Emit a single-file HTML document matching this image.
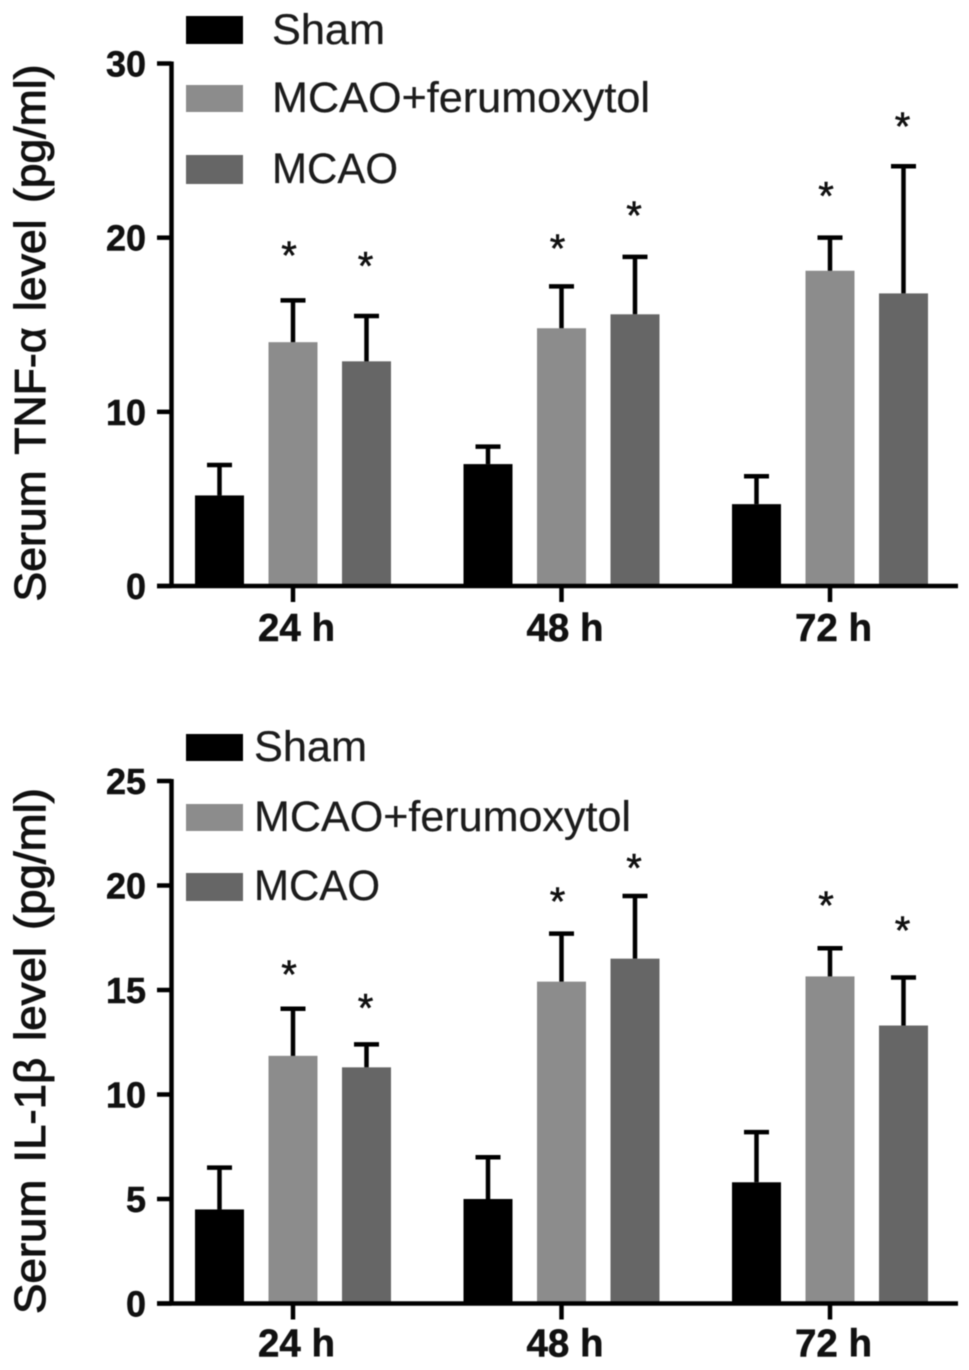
<!DOCTYPE html>
<html>
<head>
<meta charset="utf-8">
<title>Serum TNF-α and IL-1β levels</title>
<style>
html,body{margin:0;padding:0;background:#fff;}
svg{display:block;filter:blur(0.45px);}
text{font-family:"Liberation Sans",sans-serif;fill:#111;}
.tick{font-weight:700;font-size:36px;stroke:#111;stroke-width:.5px;}
.cat{font-weight:700;font-size:38.5px;stroke:#111;stroke-width:.5px;}
.title{font-size:43.5px;stroke:#111;stroke-width:1px;word-spacing:4px;}
.legend{font-size:43px;fill:#1c1c1c;stroke:#1c1c1c;stroke-width:.25px;}
.star{font-size:40px;font-weight:400;stroke:#111;stroke-width:.6px;}
</style>
</head>
<body>
<svg id="figure" width="969" height="1370" viewBox="0 0 969 1370" xmlns="http://www.w3.org/2000/svg">
  <g id="tnf-chart">
    <text class="title" transform="translate(45,333) rotate(-90)" text-anchor="middle" textLength="537" lengthAdjust="spacingAndGlyphs">Serum TNF-α level (pg/ml)</text>
    <g>
      <rect x="186" y="16" width="57" height="28" fill="#000"/>
      <text class="legend" x="272" y="44" textLength="113" lengthAdjust="spacingAndGlyphs">Sham</text>
      <rect x="186" y="85" width="57" height="27" fill="#8c8c8c"/>
      <text class="legend" x="272" y="112" textLength="378" lengthAdjust="spacingAndGlyphs">MCAO+ferumoxytol</text>
      <rect x="186" y="155" width="57" height="29" fill="#666"/>
      <text class="legend" x="272" y="183" textLength="126" lengthAdjust="spacingAndGlyphs">MCAO</text>
    </g>
  </g>
  <g id="il-chart">
    <text class="title" transform="translate(45,1051) rotate(-90)" text-anchor="middle" textLength="526" lengthAdjust="spacingAndGlyphs">Serum IL-1β level (pg/ml)</text>
    <g>
      <rect x="186" y="734" width="57" height="27" fill="#000"/>
      <text class="legend" x="254" y="761" textLength="113" lengthAdjust="spacingAndGlyphs">Sham</text>
      <rect x="186" y="804" width="57" height="27" fill="#8c8c8c"/>
      <text class="legend" x="254" y="831" textLength="377" lengthAdjust="spacingAndGlyphs">MCAO+ferumoxytol</text>
      <rect x="186" y="873" width="57" height="28" fill="#666"/>
      <text class="legend" x="254" y="900" textLength="126" lengthAdjust="spacingAndGlyphs">MCAO</text>
    </g>
  </g>
</svg>
<script>
const categories = ['24 h', '48 h', '72 h'];
const seriesKeys = ['sham', 'ferumoxytol', 'mcao'];
const seriesColors = ['#000000', '#8c8c8c', '#666666'];

const tnfTicks = [0, 10, 20, 30];
const tnfSham = [5.2, 7.0, 4.7];
const tnfFerumoxytol = [14.0, 14.8, 18.1];
const tnfMcao = [12.9, 15.6, 16.8];
const tnfShamUpper = [6.95, 8.0, 6.3];
const tnfFerumoxytolUpper = [16.4, 17.2, 20.0];
const tnfMcaoUpper = [15.5, 18.9, 24.1];
const tnfFerumoxytolStar = [19.3, 19.7, 22.7];
const tnfMcaoStar = [18.7, 21.6, 26.7];

const ilTicks = [0, 5, 10, 15, 20, 25];
const ilSham = [4.5, 5.0, 5.8];
const ilFerumoxytol = [11.85, 15.4, 15.65];
const ilMcao = [11.3, 16.5, 13.3];
const ilShamUpper = [6.5, 7.0, 8.2];
const ilFerumoxytolUpper = [14.1, 17.7, 17.0];
const ilMcaoUpper = [12.4, 19.5, 15.6];
const ilFerumoxytolStar = [16.0, 19.5, 19.3];
const ilMcaoStar = [14.4, 21.1, 18.1];

const NS = 'http://www.w3.org/2000/svg';

function make(parent, tag, attrs) {
  const el = document.createElementNS(NS, tag);
  for (const k in attrs) el.setAttribute(k, attrs[k]);
  parent.appendChild(el);
  return el;
}

function drawChart(rootId, prefix, ticks, yMax, y0, yTop, axisBottomExtent, values, uppers, stars) {
  const root = document.getElementById(rootId);
  const yScale = v => y0 - (v / yMax) * (y0 - yTop);
  const groupX = i => 293 + i * 268.5;
  const barX = (i, s) => groupX(i) + (s - 1) * 73.5;
  const barW = 49;
  const ink = '#000';

  seriesKeys.forEach((key, s) => {
    categories.forEach((cat, i) => {
      const cx = barX(i, s);
      const bar = make(root, 'rect', {x: cx - barW / 2, y: yScale(values[s][i]), width: barW, height: y0 - yScale(values[s][i]), fill: seriesColors[s]});
      
      

      const stem = make(root, 'line', {x1: cx, x2: cx, y1: yScale(values[s][i]), y2: yScale(uppers[s][i]), stroke: ink, 'stroke-width': 4.5});
      
      

      const cap = make(root, 'line', {x1: cx - 12.5, x2: cx + 12.5, y1: yScale(uppers[s][i]), y2: yScale(uppers[s][i]), stroke: ink, 'stroke-width': 4.5});
      
      

      if (s > 0) {
        const star = make(root, 'text', {x: cx - (s === 1 ? 4 : 1), y: yScale(stars[s - 1][i]) + 19, class: 'star', 'text-anchor': 'middle'});
        star.textContent = '*';
        
        
      }
    });
  });

  const yAxis = make(root, 'line', {x1: 171.5, x2: 171.5, y1: yTop - 2, y2: y0 + 2, stroke: ink, 'stroke-width': 4.5});
  
  

  const xAxis = make(root, 'line', {x1: 157, x2: 958, y1: y0, y2: y0, stroke: ink, 'stroke-width': 4.5});
  
  

  ticks.forEach(t => {
    const tick = make(root, 'line', {x1: 157, x2: 171.5, y1: yScale(t), y2: yScale(t), stroke: ink, 'stroke-width': 4.5});
    
    

    const label = make(root, 'text', {x: 146, y: yScale(t) + 13, class: 'tick', 'text-anchor': 'end'});
    label.textContent = String(t);
    
    
  });

  categories.forEach((cat, i) => {
    const tick = make(root, 'line', {x1: groupX(i), x2: groupX(i), y1: y0, y2: y0 + 16, stroke: ink, 'stroke-width': 4.5});
    
    

    const label = make(root, 'text', {x: groupX(i) + 3.5, y: y0 + axisBottomExtent, class: 'cat', 'text-anchor': 'middle'});
    label.textContent = cat;
    
    
  });
}

drawChart('tnf-chart', 'tnf', tnfTicks, 30, 586, 63.5, 55,
  [tnfSham, tnfFerumoxytol, tnfMcao],
  [tnfShamUpper, tnfFerumoxytolUpper, tnfMcaoUpper],
  [tnfFerumoxytolStar, tnfMcaoStar]);

drawChart('il-chart', 'il', ilTicks, 25, 1303.5, 781, 53,
  [ilSham, ilFerumoxytol, ilMcao],
  [ilShamUpper, ilFerumoxytolUpper, ilMcaoUpper],
  [ilFerumoxytolStar, ilMcaoStar]);
</script>
</body>
</html>
